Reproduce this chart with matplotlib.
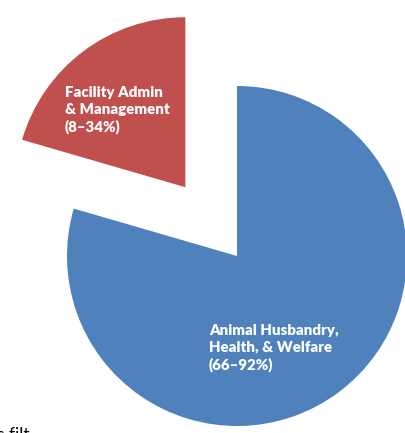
import matplotlib.pyplot as plt

W, H = 405, 433

labels = ['Facility Admin\n& Management\n(8\u201334%)',
          'Animal Husbandry,\nHealth, & Welfare\n(66\u201392%)']
shares = [20.5, 79.5]
colors = ['#C0504D', '#4F81BD']
# explode offset is in data units (pixels here)
explode = [86, 0]

fig = plt.figure(figsize=(W / 100, H / 100), dpi=100)
ax = fig.add_axes([0, 0, 1, 1])

# pie centre / radius in pixel units (y measured from bottom)
wedges, _ = ax.pie(shares, colors=colors, explode=explode, startangle=90,
                   center=(237, H - 256), radius=170, frame=True)
ax.set_xlim(0, W)
ax.set_ylim(0, H)
ax.set_aspect('equal')
ax.axis('off')

font = dict(family=['Lato', 'DejaVu Sans'], fontweight='heavy', color='white',
            fontsize=10.8, ha='left', va='top', linespacing=1.32)
ax.text(65, H - 86, labels[0], **font)
ax.text(209, H - 324, labels[1], **font)

# cut-off text fragment at the bottom edge
ax.text(-3, H - 427, 's filt', family='Lato', fontsize=12.5, color='black',
        ha='left', va='top')

fig.savefig('out.png', dpi=100)
